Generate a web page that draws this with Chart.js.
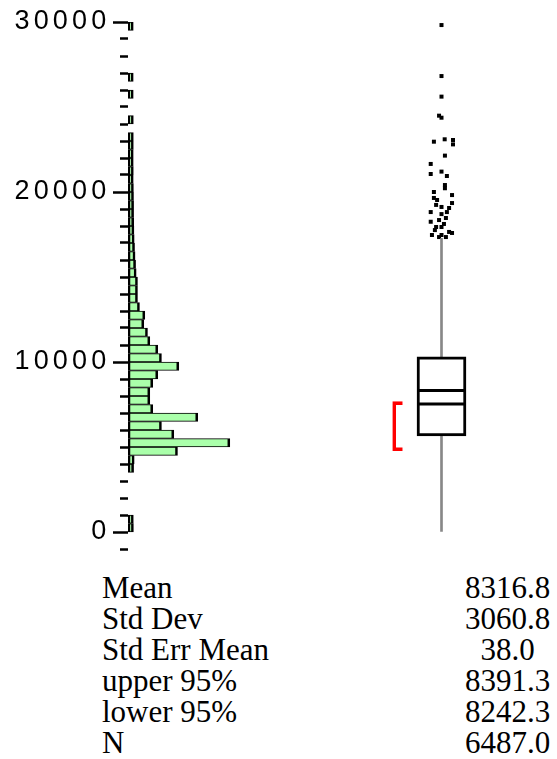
<!DOCTYPE html>
<html>
<head>
<meta charset="utf-8">
<script src="https://cdn.jsdelivr.net/npm/chart.js@4.4.1/dist/chart.umd.min.js"></script>
<style>
  body { margin: 0; background: #fff; }
  #wrap { position: relative; width: 557px; height: 759px; overflow: hidden; }
  #chart { position: absolute; left: 0; top: 0; }
  .stats { position: absolute; top: 572px; font-family: "Liberation Serif", "Times New Roman", serif; font-size: 31px; line-height: 31px; color: #000; }
  #stat-names { left: 102px; }
  #stat-values { left: 447px; width: 121px; text-align: center; }
</style>
</head>
<body>
<div id="wrap">
  <canvas id="chart" width="557" height="560"></canvas>
  <div class="stats" id="stat-names"></div>
  <div class="stats" id="stat-values"></div>
</div>
<script>
// histogram: lower edge of each 500-wide bin and its count
const BIN_WIDTH = 500;
const BIN_LOWER = [0, 500, 3500, 4000, 4500, 5000, 5500, 6000, 6500, 7000, 7500, 8000, 8500, 9000, 9500,
  10000, 10500, 11000, 11500, 12000, 12500, 13000, 13500, 14000, 14500, 15000, 15500, 16000, 16500,
  17000, 17500, 18000, 18500, 19000, 19500, 20000, 20500, 21000, 21500, 22000, 22500, 23000,
  24000, 25500, 26500, 29500];
const BIN_COUNT = [3, 2, 5, 12, 514, 1121, 471, 328, 749, 227, 193, 193, 227, 285, 529,
  328, 285, 193, 166, 123, 135, 73, 50, 50, 50, 35, 28, 22, 16,
  12, 9, 6, 5, 5, 4, 3, 1, 2, 1, 1, 2, 2,
  2, 1, 1, 1];

// outlier box plot
const BOX_MIN = 0;
const BOX_Q1 = 5650;
const BOX_MEDIAN = 7530;
const BOX_Q3 = 10310;
const BOX_UPPER_WHISKER = 17275;
const SHORTEST_HALF = [4780, 7665];
const OUTLIERS = [29820, 26820, 25610, 24490, 24370, 23100, 22960, 23060, 22800, 22140, 21650, 21060,
  21200, 20940, 20410, 20220, 20000, 19650, 19820, 19350, 19240, 19120, 18820, 18820, 18700,
  18250, 18350, 18470, 17940, 17940, 17650, 17470, 17470, 17590, 17350, 17350, 17760, 18120,
  19060, 19530];
// horizontal jitter of each outlier, as a fraction of the box half width
const OUTLIER_JITTER = [0, 0, 0, -0.1, 0, 0.13, -0.31, 0.47, 0.47, 0.14, -0.44, -0.44,
  0, 0.22, 0.14, 0.14, -0.31, -0.31, 0.43, 0.43, -0.22, 0, -0.44, 0.22, 0,
  -0.44, -0.1, 0.18, -0.22, 0, 0.31, -0.39, 0, 0.43, -0.1, 0.18, -0.27, 0.1,
  0.31, -0.18];

// axis
const Y_TICK_VALUES = [0, 10000, 20000, 30000];
const Y_TICK_LABELS = ['0', '10000', '20000', '30000'];
const Y_MINOR_STEP = 1000;

// summary statistics
const STAT_NAMES = ['Mean', 'Std Dev', 'Std Err Mean', 'upper 95%', 'lower 95%', 'N'];
const STAT_VALUES = ['8316.8', '3060.8', '38.0', '8391.3', '8242.3', '6487.0'];
const MEAN = parseFloat(STAT_VALUES[0]);

// layout (x2 is a hidden axis in pixel-like units across the plot area)
const Y_MIN = -1000, Y_MAX = 30000;
const HIST_BASE = -60;
const HIST_MAX = 4916;
const PLOT_WIDTH = 429;
const BOX_X = 313.5;
const BOX_HALF = 24.5;
const BRACKET_X = 269.7;

document.getElementById('stat-names').innerHTML = STAT_NAMES.map(s => `<div>${s}</div>`).join('');
document.getElementById('stat-values').innerHTML = STAT_VALUES.map(s => `<div>${s}</div>`).join('');

const spacingPlugin = {
  id: 'labelSpacing',
  beforeUpdate(chart) { chart.ctx.letterSpacing = '4.2px'; }
};

function minorTicks(scale) {
  const ticks = [];
  for (let v = Y_MIN; v <= Y_MAX; v += Y_MINOR_STEP) ticks.push({ value: v });
  scale.ticks = ticks;
}

function noPadding(scale, width) {
  scale.width = width;
  scale.paddingTop = 0;
  scale.paddingBottom = 0;
}

const ctx = document.getElementById('chart').getContext('2d');
new Chart(ctx, {
  type: 'bar',
  data: {
    datasets: [
      {
        type: 'scatter', label: 'Mean', xAxisID: 'x2', yAxisID: 'yMajor',
        data: [{ x: BOX_X, y: MEAN }],
        pointStyle: 'line', pointRadius: BOX_HALF - 1.5, pointBorderWidth: 3, pointBorderColor: '#000'
      },
      {
        type: 'scatter', label: 'Median', xAxisID: 'x2', yAxisID: 'yMajor',
        data: [{ x: BOX_X, y: BOX_MEDIAN }],
        pointStyle: 'line', pointRadius: BOX_HALF - 1.5, pointBorderWidth: 3, pointBorderColor: '#000'
      },
      {
        type: 'bar', label: 'Box', xAxisID: 'x2', yAxisID: 'yMajor', grouped: false,
        data: [{ x: BOX_X, y: [BOX_Q1, BOX_Q3] }],
        barThickness: BOX_HALF * 2, backgroundColor: '#fff', borderColor: '#000',
        borderWidth: 3, borderSkipped: false
      },
      {
        type: 'bar', label: 'Whisker', xAxisID: 'x2', yAxisID: 'yMajor', grouped: false,
        data: [{ x: BOX_X, y: [BOX_MIN, BOX_UPPER_WHISKER] }],
        barThickness: 2, backgroundColor: '#888', borderWidth: 0
      },
      {
        type: 'bar', label: 'Shortest half', xAxisID: 'x2', yAxisID: 'yMajor', grouped: false,
        data: [{ x: BRACKET_X, y: SHORTEST_HALF }],
        barThickness: 10, backgroundColor: 'rgba(0,0,0,0)', borderColor: '#ff0000',
        borderWidth: 3, borderSkipped: 'right'
      },
      {
        type: 'scatter', label: 'Outliers', xAxisID: 'x2', yAxisID: 'yMajor',
        data: OUTLIERS.map((v, i) => ({ x: BOX_X + OUTLIER_JITTER[i] * BOX_HALF, y: v })),
        pointStyle: 'rect', pointRadius: 2.83, pointBorderWidth: 0, pointBackgroundColor: '#000'
      },
      {
        type: 'bar', label: 'Histogram', indexAxis: 'y', xAxisID: 'x', yAxisID: 'y', grouped: false,
        data: BIN_LOWER.map((b, i) => ({ x: BIN_COUNT[i], y: b + BIN_WIDTH / 2 })),
        base: HIST_BASE, barPercentage: 1, categoryPercentage: 1,
        backgroundColor: '#aaffaa', borderColor: '#000',
        borderWidth: { left: 2.6, right: 2.6, top: 1.2, bottom: 1.2 }, borderSkipped: false
      }
    ]
  },
  options: {
    responsive: false,
    animation: false,
    events: [],
    layout: { autoPadding: false, padding: { top: 22, bottom: 11, left: 0, right: 0 } },
    plugins: { legend: { display: false }, tooltip: { enabled: false } },
    scales: {
      x: { type: 'linear', axis: 'x', display: false, min: HIST_BASE, max: HIST_MAX, offset: false },
      x2: { type: 'linear', axis: 'x', display: false, min: 0, max: PLOT_WIDTH, offset: false },
      y: {
        type: 'linear', axis: 'y', position: 'left', weight: 0, min: Y_MIN, max: Y_MAX, offset: false,
        border: { display: false },
        grid: { drawOnChartArea: false, offset: false, tickLength: 8, tickWidth: 2.5, tickColor: '#000' },
        ticks: { display: false },
        afterBuildTicks: minorTicks,
        afterFit: s => noPadding(s, 8)
      },
      yMajor: {
        type: 'linear', axis: 'y', position: 'left', weight: 1, min: Y_MIN, max: Y_MAX, offset: false,
        border: { display: false },
        grid: { drawOnChartArea: false, tickLength: 7, tickWidth: 2.5, tickColor: '#000' },
        ticks: {
          padding: 2.5, color: '#000', autoSkip: false,
          font: { family: 'Liberation Sans', size: 27 },
          callback: v => { const i = Y_TICK_VALUES.indexOf(v); return i < 0 ? '' : Y_TICK_LABELS[i]; }
        },
        afterBuildTicks: s => { s.ticks = Y_TICK_VALUES.map(v => ({ value: v })); },
        afterFit: s => noPadding(s, 120)
      }
    }
  },
  plugins: [spacingPlugin]
});
</script>
</body>
</html>
